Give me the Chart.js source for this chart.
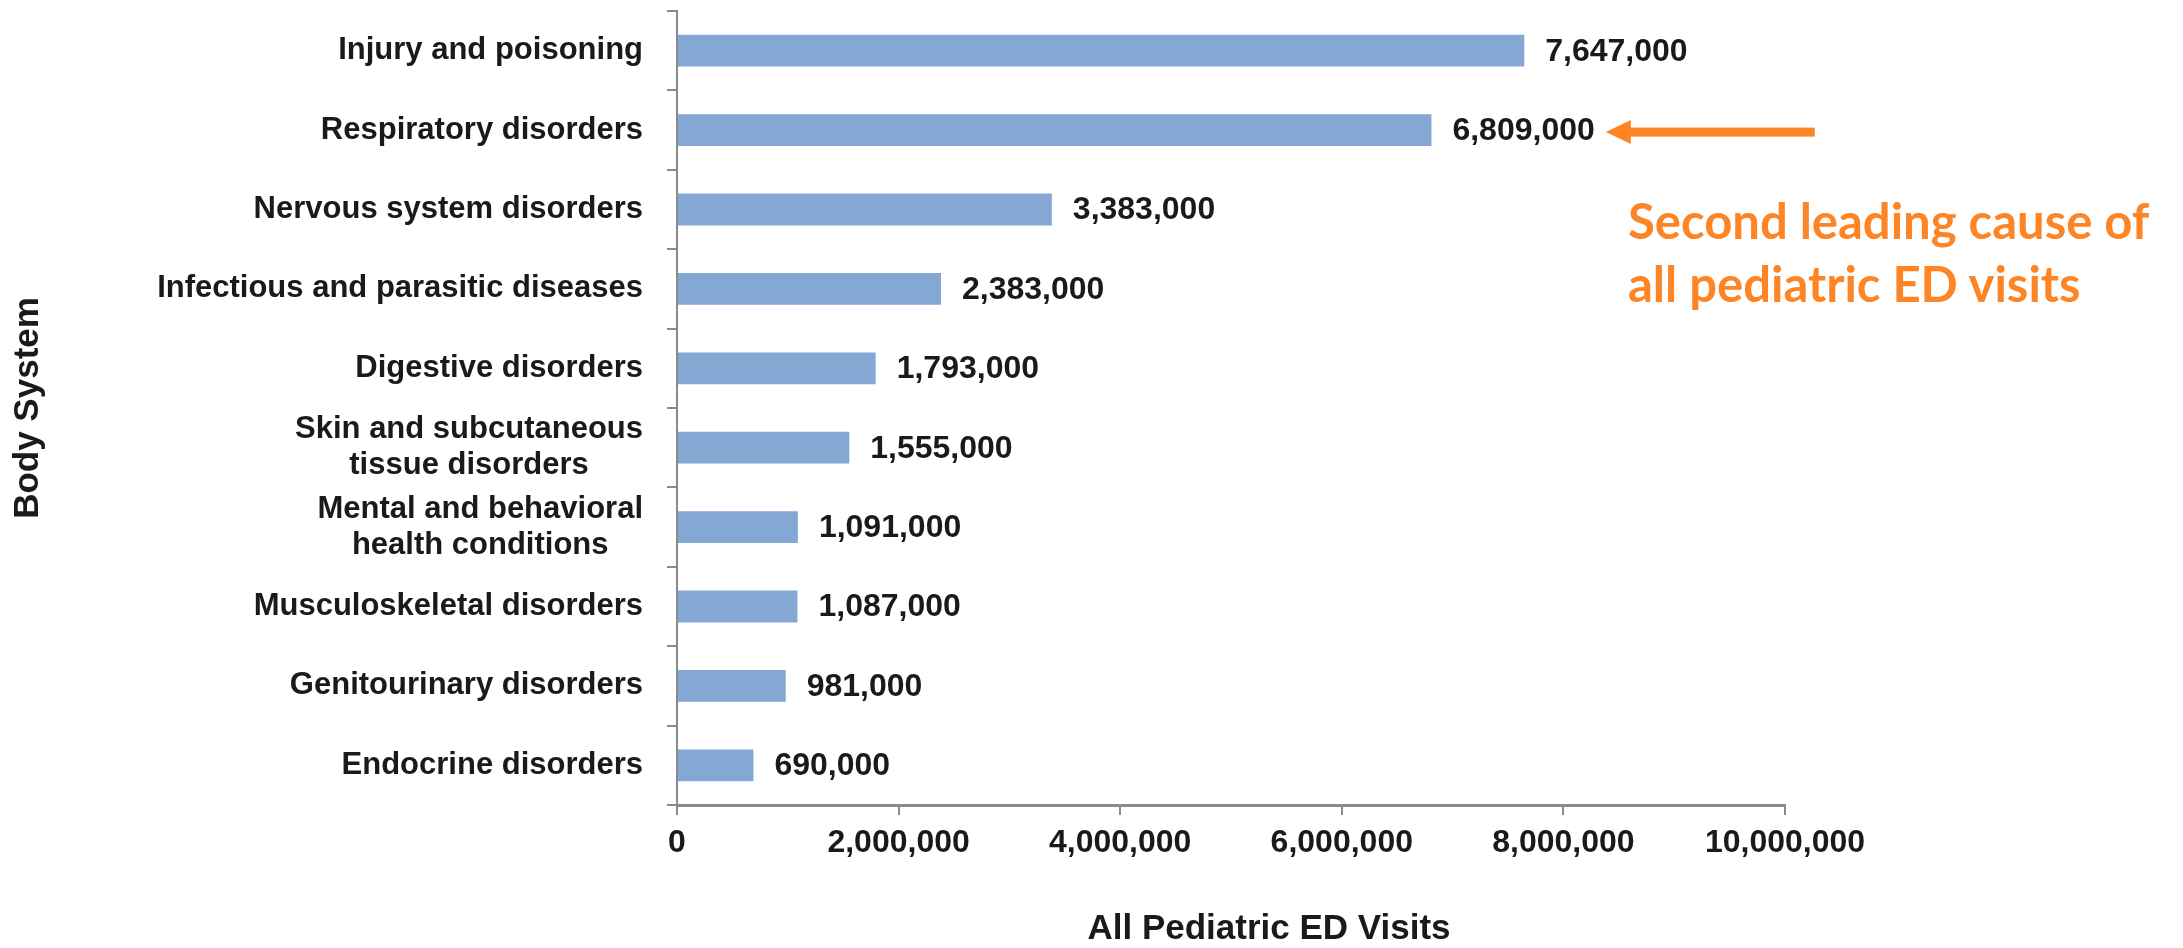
<!DOCTYPE html>
<html>
<head>
<meta charset="utf-8">
<script src="https://cdn.jsdelivr.net/npm/chart.js@4.4.1/dist/chart.umd.min.js"></script>
<style>
  html, body { margin:0; padding:0; background:#fff; }
  #wrap { position:relative; width:2183px; height:948px; overflow:hidden; }
  #note { position:absolute; left:1628px; top:189px; font:bold 49px Lato, "Open Sans", sans-serif; line-height:63px; color:#fd8525; white-space:nowrap; }
</style>
</head>
<body>
<div id="wrap">
  <canvas id="c" width="2183" height="948"></canvas>
  <div id="note">Second leading cause of<br>all pediatric ED visits</div>
</div>
<script>
const categories = [
  ['Injury and poisoning'],
  ['Respiratory disorders'],
  ['Nervous system disorders'],
  ['Infectious and parasitic diseases'],
  ['Digestive disorders'],
  ['Skin and subcutaneous', 'tissue disorders'],
  ['Mental and behavioral', 'health conditions'],
  ['Musculoskeletal disorders'],
  ['Genitourinary disorders'],
  ['Endocrine disorders']
];
const visits = [7647000, 6809000, 3383000, 2383000, 1793000, 1555000, 1091000, 1087000, 981000, 690000];
const xTicks = [0, 2000000, 4000000, 6000000, 8000000, 10000000];
const xTitle = 'All Pediatric ED Visits';
const yTitle = 'Body System';
const highlight = 1; // the bar the arrow points at

const FONT = '"Liberation Sans", Arial, sans-serif';
const INK = '#1a1a1a';
const AXIS = '#8a8a8a';
const fmt = v => v.toLocaleString('en-US');

// labels, value labels, titles and arrow
const decor = {
  id: 'decor',
  afterDraw(chart){
    const ctx = chart.ctx, ca = chart.chartArea;
    const ys = chart.scales.y;
    const meta = chart.getDatasetMeta(0);
    ctx.save();

    // category labels: block right aligned, lines centred in the block
    ctx.font = 'bold 31px ' + FONT; ctx.fillStyle = INK; ctx.textBaseline = 'middle';
    categories.forEach((lines, i) => {
      const cy = ys.getPixelForValue(i);
      const w = Math.max(...lines.map(l => ctx.measureText(l).width));
      const right = ca.left - 34;
      lines.forEach((l, k) => {
        const y = cy + (k - (lines.length - 1) / 2) * 36;
        if(lines.length === 1){ ctx.textAlign = 'right'; ctx.fillText(l, right, y); }
        else { ctx.textAlign = 'center'; ctx.fillText(l, right - w / 2, y); }
      });
    });

    // value labels
    ctx.font = 'bold 32px ' + FONT; ctx.textAlign = 'left';
    meta.data.forEach((bar, i) => ctx.fillText(fmt(visits[i]), bar.x + 21, bar.y + 1));

    // arrow to the highlighted bar
    const hb = meta.data[highlight];
    const tip = hb.x + 21 + ctx.measureText(fmt(visits[highlight])).width + 11;
    const ay = hb.y + 2;
    ctx.fillStyle = '#fd8525';
    ctx.fillRect(tip + 22, ay - 4.5, 187, 9);
    ctx.beginPath(); ctx.moveTo(tip, ay); ctx.lineTo(tip + 25, ay - 12); ctx.lineTo(tip + 25, ay + 12); ctx.closePath(); ctx.fill();

    // axis titles
    ctx.fillStyle = INK; ctx.font = 'bold 35px ' + FONT;
    ctx.textAlign = 'center'; ctx.textBaseline = 'alphabetic';
    ctx.fillText(xTitle, (ca.left + ca.right) / 2 + 38, 939);
    ctx.translate(38, (ca.top + ca.bottom) / 2);
    ctx.rotate(-Math.PI / 2);
    ctx.fillText(yTitle, 0, 0);
    ctx.restore();
  }
};

new Chart(document.getElementById('c'), {
  type: 'bar',
  data: {
    labels: categories.map(c => c.join(' ')),
    datasets: [{ data: visits, backgroundColor: '#84a7d3', barPercentage: 0.4, categoryPercentage: 1 }]
  },
  options: {
    indexAxis: 'y',
    responsive: false,
    devicePixelRatio: 1,
    animation: false,
    layout: { padding: { top: 11, right: 398, left: 0, bottom: 0 } },
    plugins: { legend: { display: false }, tooltip: { enabled: false } },
    scales: {
      x: {
        min: xTicks[0], max: xTicks[xTicks.length - 1],
        afterBuildTicks: s => { s.ticks = xTicks.map(v => ({ value: v })); },
        afterFit: s => { s.height = 143; },
        grid: { drawOnChartArea: false, drawTicks: true, tickLength: 10, color: AXIS, lineWidth: 2 },
        border: { color: AXIS, width: 3 },
        ticks: { font: { family: FONT, size: 32, weight: 'bold' }, color: INK, padding: 9, maxRotation: 0, callback: v => fmt(v) }
      },
      y: {
        afterFit: s => { s.width = 677; },
        grid: { drawOnChartArea: false, drawTicks: true, tickLength: 10, color: AXIS, lineWidth: 2 },
        border: { color: AXIS, width: 2 },
        ticks: { display: false }
      }
    }
  },
  plugins: [decor]
});
</script>
</body>
</html>
